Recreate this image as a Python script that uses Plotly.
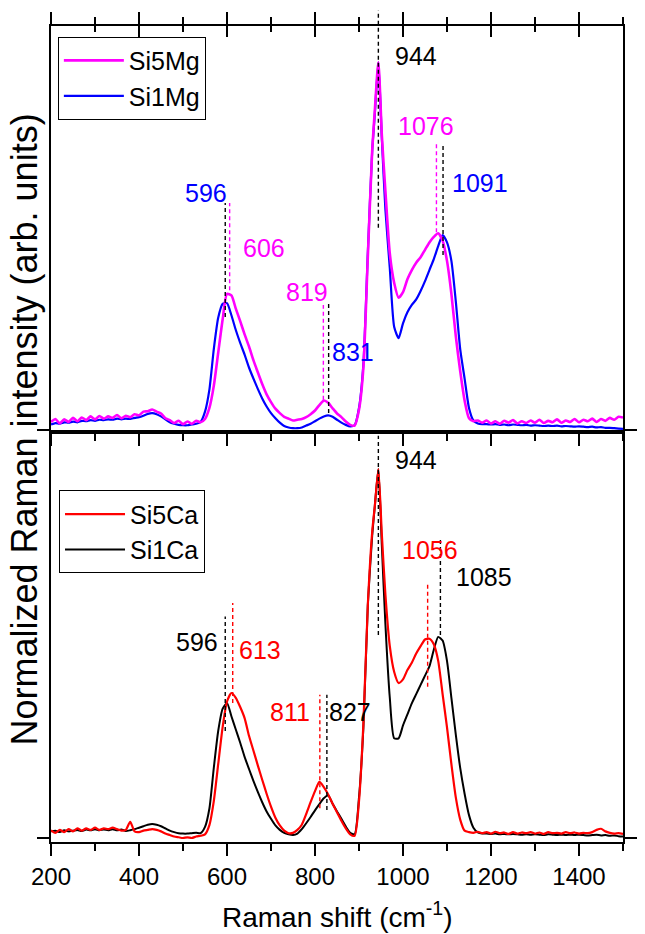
import plotly.graph_objects as go

# Raman shift sampling grid (cm-1), denser around the 944 cm-1 band
shift = list(range(200, 931, 10)) + [936, 944, 952] + list(range(960, 1501, 10))

# Normalized Raman intensities, top panel (Mg glasses)
si1mg = [
    0.015, 0.019, 0.017, 0.021, 0.02, 0.023, 0.021, 0.025, 0.024, 0.027,
    0.025, 0.028, 0.027, 0.029, 0.028, 0.031, 0.029, 0.031, 0.03, 0.033,
    0.035, 0.039, 0.044, 0.046, 0.043, 0.037, 0.029, 0.021, 0.017, 0.014,
    0.013, 0.013, 0.015, 0.017, 0.022, 0.05, 0.11, 0.22, 0.305, 0.343,
    0.345, 0.312, 0.272, 0.237, 0.205, 0.17, 0.14, 0.112, 0.086, 0.064,
    0.046, 0.032, 0.02, 0.011, 0.007, 0.005, 0.005, 0.007, 0.012, 0.017,
    0.024, 0.031, 0.037, 0.04, 0.036, 0.028, 0.02, 0.014, 0.01, 0.013,
    0.06, 0.18, 0.48, 0.76, 0.86, 1.0, 0.79, 0.6, 0.44, 0.28,
    0.25, 0.29, 0.32, 0.34, 0.355, 0.378, 0.405, 0.435, 0.465, 0.5,
    0.53, 0.51, 0.46, 0.35, 0.22, 0.14, 0.06, 0.026, 0.018, 0.016,
    0.016, 0.015, 0.016, 0.014, 0.015, 0.013, 0.015, 0.014, 0.013, 0.014,
    0.012, 0.013, 0.012, 0.011, 0.012, 0.011, 0.012, 0.01, 0.011, 0.01,
    0.009, 0.01, 0.009, 0.008, 0.009, 0.007, 0.008, 0.006, 0.006, 0.005,
    0.004, 0.003,
]
si5mg = [
    0.022, 0.03, 0.018, 0.029, 0.022, 0.033, 0.024, 0.034, 0.027, 0.037,
    0.029, 0.038, 0.031, 0.037, 0.033, 0.041, 0.032, 0.039, 0.035, 0.043,
    0.04, 0.05, 0.051, 0.056, 0.05, 0.045, 0.032, 0.027, 0.019, 0.025,
    0.016, 0.023, 0.017, 0.025, 0.021, 0.03, 0.06, 0.12, 0.21, 0.3,
    0.37, 0.366, 0.33, 0.296, 0.26, 0.227, 0.19, 0.157, 0.125, 0.097,
    0.076, 0.058, 0.046, 0.036, 0.031, 0.026, 0.028, 0.03, 0.035, 0.043,
    0.053, 0.068, 0.08, 0.074, 0.059, 0.045, 0.035, 0.023, 0.014, 0.012,
    0.055, 0.17, 0.47, 0.76, 0.87, 1.0, 0.8, 0.65, 0.48, 0.4,
    0.36, 0.375, 0.41, 0.435, 0.455, 0.47, 0.49, 0.51, 0.525, 0.535,
    0.515, 0.46, 0.37, 0.255, 0.16, 0.08, 0.032, 0.024, 0.026, 0.02,
    0.026, 0.018, 0.024, 0.017, 0.025, 0.02, 0.027, 0.018, 0.024, 0.019,
    0.026, 0.02, 0.028, 0.019, 0.025, 0.021, 0.029, 0.02, 0.026, 0.022,
    0.03, 0.021, 0.028, 0.024, 0.031, 0.022, 0.03, 0.025, 0.033, 0.028,
    0.036, 0.034,
]

# Normalized Raman intensities, bottom panel (Ca glasses)
si1ca = [
    0.018, 0.02, 0.016, 0.021, 0.018, 0.02, 0.022, 0.019, 0.023, 0.021,
    0.024, 0.021, 0.023, 0.021, 0.024, 0.021, 0.023, 0.019, 0.021, 0.024,
    0.028, 0.032, 0.036, 0.038, 0.036, 0.032, 0.026, 0.02, 0.016, 0.013,
    0.012, 0.012, 0.013, 0.014, 0.013, 0.03, 0.08, 0.19, 0.29, 0.35,
    0.366, 0.33, 0.294, 0.258, 0.22, 0.187, 0.155, 0.125, 0.097, 0.072,
    0.052, 0.034, 0.022, 0.014, 0.01, 0.008, 0.012, 0.024, 0.04, 0.057,
    0.075, 0.092, 0.108, 0.115, 0.093, 0.072, 0.052, 0.031, 0.014, 0.01,
    0.11, 0.3, 0.63, 0.82, 0.9, 1.0, 0.79, 0.58, 0.38, 0.27,
    0.27, 0.305, 0.335, 0.365, 0.39, 0.415, 0.44, 0.465, 0.51, 0.545,
    0.535, 0.48, 0.38, 0.28, 0.19, 0.12, 0.062, 0.028, 0.015, 0.012,
    0.012, 0.011, 0.012, 0.01, 0.011, 0.01, 0.011, 0.01, 0.009, 0.01,
    0.009, 0.01, 0.009, 0.008, 0.01, 0.009, 0.008, 0.009, 0.008, 0.009,
    0.008, 0.009, 0.008, 0.007, 0.008, 0.009, 0.007, 0.008, 0.006, 0.007,
    0.005, 0.004,
]
si5ca = [
    0.021, 0.014, 0.022, 0.016, 0.024, 0.018, 0.026, 0.02, 0.026, 0.022,
    0.028, 0.022, 0.026, 0.024, 0.028, 0.024, 0.02, 0.022, 0.044, 0.018,
    0.016, 0.02, 0.022, 0.024, 0.022, 0.018, 0.012, 0.008, 0.004, 0.002,
    0.0, 0.002, 0.0, 0.004, 0.006, 0.01, 0.035, 0.1, 0.2, 0.3,
    0.37, 0.393, 0.38, 0.355, 0.325, 0.277, 0.237, 0.197, 0.158, 0.12,
    0.085, 0.055, 0.034, 0.02, 0.013, 0.014, 0.022, 0.036, 0.065, 0.097,
    0.127, 0.152, 0.138, 0.118, 0.093, 0.07, 0.047, 0.026, 0.01, 0.006,
    0.1, 0.31, 0.63, 0.83, 0.9, 1.0, 0.82, 0.66, 0.52, 0.45,
    0.42, 0.43, 0.455, 0.475, 0.5, 0.52, 0.538, 0.54, 0.525, 0.48,
    0.39, 0.3, 0.2, 0.11, 0.05, 0.02, 0.016, 0.014, 0.017, 0.013,
    0.016, 0.012, 0.017, 0.013, 0.015, 0.011, 0.016, 0.012, 0.015, 0.013,
    0.016, 0.012, 0.015, 0.011, 0.016, 0.013, 0.014, 0.012, 0.016, 0.013,
    0.015, 0.012, 0.014, 0.013, 0.016, 0.022, 0.025, 0.018, 0.014, 0.012,
    0.013, 0.011,
]

# Band positions (cm-1) marked in each panel
mg_peaks = [596, 606, 819, 831, 944, 1076, 1091]
ca_peaks = [596, 613, 811, 827, 944, 1056, 1085]

x_ticks = [200, 400, 600, 800, 1000, 1200, 1400]

BLUE, MAGENTA, RED, BLACK = "#0000FF", "#FF00FF", "#FF0000", "#000000"
FONT = "Liberation Sans, Arial, sans-serif"
X_RANGE = [200, 1500]
Y_BOT = [-0.0108, 1.101]
Y_TOP = [-0.0046, 1.0986]
SPLIT = 0.5028

# label colour, dashed-line colour, dashed-line span, label position
mg_style = [
    (BLUE, BLACK, (0.307, 0.617), (553, 0.644)),
    (MAGENTA, MAGENTA, (0.38, 0.617), (684, 0.495)),
    (MAGENTA, MAGENTA, (0.082, 0.34), (781, 0.376)),
    (BLUE, BLACK, (0.046, 0.345), (886, 0.213)),
    (BLACK, BLACK, None, (1030, 1.016)),
    (MAGENTA, MAGENTA, (0.538, 0.78), (1052, 0.826)),
    (BLUE, BLACK, (0.476, 0.78), (1176, 0.671)),
]
ca_style = [
    (BLACK, BLACK, (0.29, 0.60), (531, 0.532)),
    (RED, RED, (0.366, 0.637), (676, 0.509)),
    (RED, RED, (0.081, 0.388), (744, 0.342)),
    (BLACK, BLACK, (0.076, 0.388), (880, 0.342)),
    (BLACK, BLACK, (0.55, 1.09), (1030, 1.024)),
    (RED, RED, (0.41, 0.69), (1062, 0.78)),
    (BLACK, BLACK, (0.55, 0.815), (1185, 0.708)),
]

fig = go.Figure()

def add_spectrum(y, name, color, width, xa, ya, legend):
    fig.add_trace(go.Scatter(
        x=shift, y=y, name=name, mode="lines",
        line=dict(color=color, width=width, shape="spline", smoothing=0.6),
        xaxis=xa, yaxis=ya, legend=legend,
    ))

# Si5Mg sits on the overlaid top axis, which carries the inward top ticks
add_spectrum(si1mg, "Si1Mg", BLUE, 2.2, "x2", "y2", "legend")
add_spectrum(si5mg, "Si5Mg", MAGENTA, 2.6, "x3", "y2", "legend")
add_spectrum(si1ca, "Si1Ca", BLACK, 2.0, "x", "y", "legend2")
add_spectrum(si5ca, "Si5Ca", RED, 2.2, "x", "y", "legend2")

DASH = dict(width=1.4, dash="4px,3px")

def mark_peaks(peaks, styles, xr, yr):
    for pk, (lc, dc, span, (lx, ly)) in zip(peaks, styles):
        if span is not None:
            fig.add_shape(type="line", xref=xr, yref=yr, x0=pk, x1=pk,
                          y0=span[0], y1=span[1], line=dict(color=dc, **DASH))
        fig.add_annotation(x=lx, y=ly, xref=xr, yref=yr, text=str(pk),
                           showarrow=False, xanchor="center", yanchor="middle",
                           font=dict(size=25, color=lc, family=FONT))

mark_peaks(mg_peaks, mg_style, "x2", "y2")
mark_peaks(ca_peaks, ca_style, "x", "y")

# the 944 cm-1 guide of the upper panel rises above its frame
def xfrac(v):
    return (v - X_RANGE[0]) / (X_RANGE[1] - X_RANGE[0])

def yfrac(v, rng):
    return (v - rng[0]) / (rng[1] - rng[0])

fig.add_shape(type="line", xref="x2 domain", yref="y2 domain",
              x0=xfrac(944), x1=xfrac(944),
              y0=yfrac(0.55, Y_TOP), y1=yfrac(1.141, Y_TOP),
              line=dict(color=BLACK, **DASH))

axis_common = dict(showgrid=False, zeroline=False, showline=True,
                   linecolor=BLACK, linewidth=1.6, tickcolor=BLACK, tickwidth=1.6)

def minor(direction, length):
    return dict(dtick=100, tick0=200, ticks=direction, ticklen=length,
                tickwidth=1.6, tickcolor=BLACK, showgrid=False)

fig.update_layout(
    width=645, height=934,
    margin=dict(l=51, r=8, t=26, b=92),
    paper_bgcolor="white", plot_bgcolor="white",
    font=dict(family=FONT, color=BLACK),
    xaxis=dict(domain=[0, 1], anchor="y", range=X_RANGE, tickvals=x_ticks,
               ticks="outside", ticklen=12, mirror=True, minor=minor("outside", 7),
               tickfont=dict(size=24), ticklabelstandoff=0, **axis_common),
    xaxis2=dict(domain=[0, 1], anchor="y2", range=X_RANGE, tickvals=x_ticks,
                showticklabels=False, ticks="outside", ticklen=12,
                mirror="ticks", minor=minor("outside", 7), **axis_common),
    xaxis3=dict(overlaying="x2", anchor="y2", side="top", range=X_RANGE,
                tickvals=x_ticks, showticklabels=False, ticks="inside", ticklen=11,
                showline=False, showgrid=False, zeroline=False,
                tickcolor=BLACK, tickwidth=1.6, minor=minor("inside", 6)),
    yaxis=dict(domain=[0, SPLIT], anchor="x", range=Y_BOT, tickvals=[0],
               showticklabels=False, ticks="outside", ticklen=12, mirror="ticks",
               **axis_common),
    yaxis2=dict(domain=[SPLIT, 1], anchor="x2", range=Y_TOP, tickvals=[0],
                showticklabels=False, ticks="outside", ticklen=12, mirror="ticks",
                **axis_common),
    legend=dict(x=0.012, y=0.987, xanchor="left", yanchor="top",
                bordercolor=BLACK, borderwidth=1, bgcolor="white",
                font=dict(size=25, family=FONT), traceorder="reversed",
                itemwidth=60, tracegroupgap=0),
    legend2=dict(x=0.014, y=0.431, xanchor="left", yanchor="top",
                 bordercolor=BLACK, borderwidth=1, bgcolor="white",
                 font=dict(size=25, family=FONT), traceorder="reversed",
                 itemwidth=60, tracegroupgap=0),
    showlegend=True,
)

fig.add_annotation(text="Normalized Raman intensity (arb. units)",
                   xref="paper", yref="paper", x=-0.046, y=0.505,
                   textangle=-90, showarrow=False, xanchor="center", yanchor="middle",
                   font=dict(size=36, family=FONT, color=BLACK))
fig.add_annotation(text="Raman shift (cm<sup>-1</sup>)",
                   xref="paper", yref="paper", x=0.5, y=-0.0895,
                   showarrow=False, xanchor="center", yanchor="middle",
                   font=dict(size=28, family=FONT, color=BLACK))

fig.write_html("out.html")
